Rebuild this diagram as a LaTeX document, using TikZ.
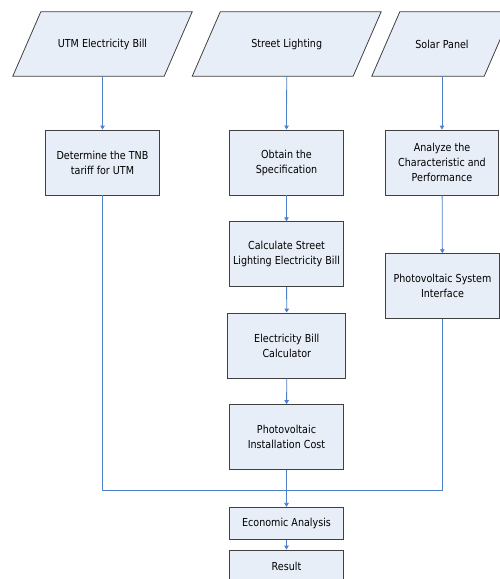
\documentclass[tikz,border=0pt]{standalone}
\usepackage{fontspec}
\setmainfont{DejaVu Sans}[FakeStretch=0.87]
\usetikzlibrary{arrows.meta,backgrounds}

\definecolor{boxfill}{HTML}{E8EEF8}
\definecolor{boxline}{HTML}{404040}
\definecolor{flowline}{HTML}{4F81C9}

\tikzset{
  stepbox/.style={draw=boxline, fill=boxfill, line width=0.8pt, minimum width=113.5pt,
    minimum height=65pt, align=center, inner sep=2pt, font=\fontsize{11}{15}\selectfont},
  inputbox/.style={minimum height=64pt, inner sep=2pt, align=center,
    font=\fontsize{11}{15}\selectfont},
  inputshape/.style={draw=boxline, fill=boxfill, line width=0.8pt, line join=miter},
  link/.style={draw=flowline, line width=0.8pt},
  flow/.style={link, -{Triangle[length=4pt,width=4.5pt]}},
}

\begin{document}
\begin{tikzpicture}[x=1pt, y=-1pt]
\useasboundingbox (0,0) rectangle (500,579);
\clip (0,0) rectangle (500,579);

% Inputs
\node[inputbox, minimum width=151pt] (utm) at (102.5,44) {UTM Electricity Bill};
\node[inputbox, minimum width=160.5pt] (street) at (286.7,44) {Street Lighting};
\node[inputbox, minimum width=112pt] (solar) at (442,44) {Solar Panel};
\begin{scope}[on background layer]
\foreach \n in {utm,street,solar}
  \draw[inputshape] ([xshift=-14pt]\n.south west) -- ([xshift=14pt]\n.north west)
    -- ([xshift=14pt]\n.north east) -- ([xshift=-14pt]\n.south east) -- cycle;
\end{scope}

% Steps
\node[stepbox] (tnb) at (102.5,162.5) {Determine the TNB\\tariff for UTM};
\node[stepbox] (spec) at (286.5,162.5) {Obtain the\\Specification};
\node[stepbox] (analyze) at (442,162.5) {Analyze the\\Characteristic and\\Performance};
\node[stepbox] (calc) at (286.5,254.2) {Calculate Street\\Lighting Electricity Bill};
\node[stepbox, minimum width=118pt] (calculator) at (286.8,345.5) {Electricity Bill\\Calculator};
\node[stepbox] (pvcost) at (286.5,437) {Photovoltaic\\Installation Cost};
\node[stepbox] (pvsys) at (442.5,286.2) {Photovoltaic System\\Interface};
\node[stepbox, minimum height=32pt] (econ) at (286.5,523.3) {Economic Analysis};
\node[stepbox, minimum height=32pt] (result) at (286.5,566) {Result};
\coordinate (merge) at (286.5,490.7);

% Connectors
\draw[flow] (utm.south) -- (tnb.north);
\draw[flow] (street.south) -- (spec.north);
\draw[flow] (solar.south) -- (analyze.north);
\draw[flow] (spec) -- (calc);
\draw[flow] (calc) -- (calculator);
\draw[flow] (calculator) -- (pvcost);
\draw[flow] (analyze) -- (pvsys);
\draw[link] (tnb.south) |- (merge);
\draw[link] (pvsys.south) |- (merge);
\draw[flow] (pvcost) -- (econ);
\draw[flow] (econ) -- (result);
\end{tikzpicture}
\end{document}
